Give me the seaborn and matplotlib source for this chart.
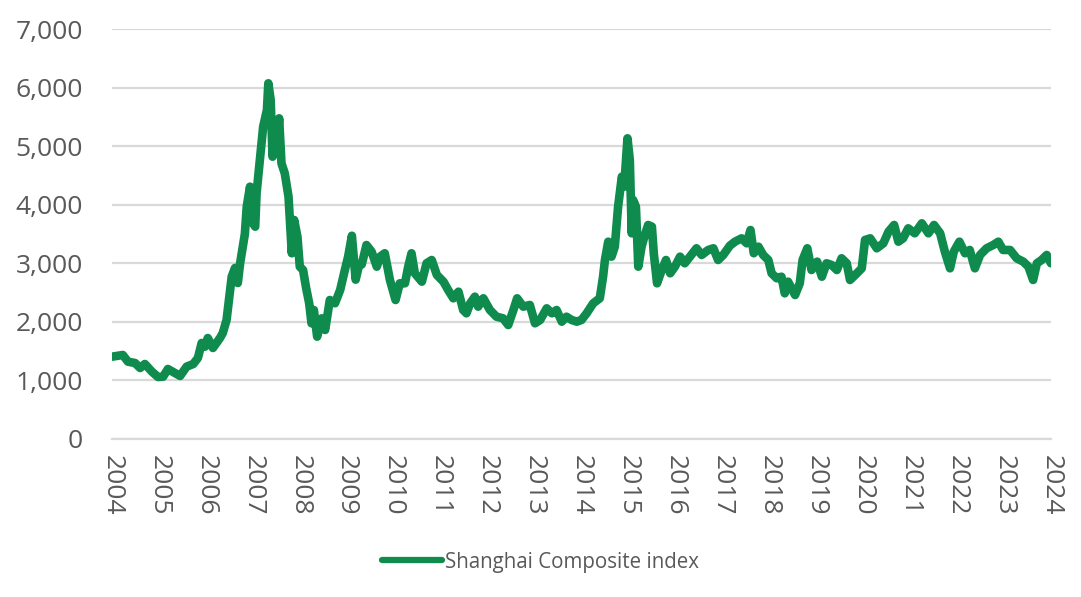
import pandas as pd
import seaborn as sns
import matplotlib.pyplot as plt
from matplotlib.ticker import FuncFormatter

# %% data (x position in years, index level)
years = [
    2004.00, 2004.23, 2004.34, 2004.49, 2004.60, 2004.70, 2004.85, 2004.98, 2005.09, 2005.19,
    2005.34, 2005.45, 2005.59, 2005.73, 2005.83, 2005.91, 2005.98, 2006.04, 2006.15, 2006.30,
    2006.36, 2006.44, 2006.55, 2006.62, 2006.68, 2006.73, 2006.83, 2006.87, 2006.94, 2007.00,
    2007.05, 2007.08, 2007.15, 2007.22, 2007.30, 2007.33, 2007.38, 2007.42, 2007.47, 2007.51,
    2007.56, 2007.61, 2007.68, 2007.76, 2007.83, 2007.88, 2007.95, 2008.00, 2008.07, 2008.13,
    2008.20, 2008.25, 2008.30, 2008.37, 2008.47, 2008.54, 2008.64, 2008.75, 2008.86, 2008.96,
    2009.03, 2009.11, 2009.19, 2009.26, 2009.32, 2009.42, 2009.53, 2009.64, 2009.71, 2009.81,
    2009.92, 2010.04, 2010.13, 2010.24, 2010.31, 2010.38, 2010.45, 2010.60, 2010.70, 2010.81,
    2010.92, 2011.06, 2011.16, 2011.27, 2011.38, 2011.48, 2011.55, 2011.63, 2011.73, 2011.80,
    2011.91, 2012.05, 2012.19, 2012.33, 2012.44, 2012.55, 2012.63, 2012.76, 2012.90, 2013.01,
    2013.12, 2013.26, 2013.37, 2013.47, 2013.58, 2013.68, 2013.79, 2013.90, 2014.00, 2014.11,
    2014.25, 2014.39, 2014.46, 2014.50, 2014.57, 2014.64, 2014.71, 2014.78, 2014.86, 2014.91,
    2014.98, 2015.03, 2015.07, 2015.10, 2015.16, 2015.21, 2015.28, 2015.35, 2015.42, 2015.50,
    2015.54, 2015.61, 2015.71, 2015.80, 2015.89, 2015.99, 2016.10, 2016.20, 2016.31, 2016.45,
    2016.56, 2016.70, 2016.81, 2016.91, 2017.02, 2017.16, 2017.27, 2017.41, 2017.52, 2017.60,
    2017.67, 2017.77, 2017.87, 2017.98, 2018.05, 2018.16, 2018.26, 2018.33, 2018.40, 2018.55,
    2018.65, 2018.71, 2018.81, 2018.90, 2019.02, 2019.12, 2019.22, 2019.33, 2019.44, 2019.54,
    2019.65, 2019.72, 2019.83, 2019.97, 2020.04, 2020.15, 2020.29, 2020.43, 2020.54, 2020.66,
    2020.75, 2020.85, 2020.96, 2021.10, 2021.25, 2021.39, 2021.51, 2021.64, 2021.74, 2021.85,
    2021.93, 2022.05, 2022.17, 2022.27, 2022.38, 2022.49, 2022.63, 2022.77, 2022.88, 2022.98,
    2023.13, 2023.27, 2023.41, 2023.52, 2023.62, 2023.70, 2023.80, 2023.91, 2024.00,
]
index_level = [
    1405, 1434, 1320, 1297, 1212, 1280, 1150, 1058, 1064, 1195,
    1127, 1076, 1235, 1280, 1383, 1639, 1576, 1724, 1554, 1724,
    1810, 2030, 2771, 2920, 2663, 3005, 3500, 3966, 4308, 3688,
    3625, 4200, 4764, 5332, 5617, 6073, 5788, 4820, 5161, 4883,
    5475, 4707, 4536, 4137, 3171, 3739, 3454, 2942, 2885, 2600,
    2317, 1975, 2202, 1747, 2060, 1861, 2373, 2317, 2544, 2885,
    3113, 3470, 2720, 2960, 2980, 3312, 3198, 2942, 3113, 3171,
    2715, 2373, 2658, 2658, 2942, 3171, 2829, 2686, 3000, 3056,
    2800, 2686, 2544, 2402, 2515, 2202, 2146, 2317, 2430, 2259,
    2402, 2202, 2088, 2060, 1946, 2202, 2402, 2259, 2288, 1975,
    2032, 2231, 2146, 2202, 2003, 2088, 2032, 2003, 2032, 2146,
    2317, 2402, 2771, 3056, 3369, 3113, 3283, 3966, 4479, 4308,
    5134, 4764, 3512, 4081, 3966, 2942, 3283, 3483, 3654, 3625,
    3171, 2658, 2885, 3056, 2829, 2942, 3113, 3000, 3113, 3256,
    3142, 3227, 3256, 3056, 3142, 3300, 3369, 3426, 3341, 3568,
    3171, 3283, 3142, 3056, 2829, 2744, 2771, 2487, 2686, 2458,
    2658, 3056, 3256, 2885, 3028, 2771, 3000, 2971, 2885, 3085,
    3000, 2715, 2800, 2914, 3398, 3426, 3256, 3341, 3540, 3654,
    3369, 3426, 3597, 3512, 3682, 3512, 3654, 3512, 3198, 2914,
    3198, 3369, 3171, 3227, 2914, 3142, 3256, 3312, 3369, 3227,
    3227, 3085, 3028, 2942, 2715, 3000, 3056, 3142, 3000,
]
series_name = "Shanghai Composite index"
year_ticks = list(range(2004, 2025))
value_ticks = list(range(0, 8000, 1000))

df = pd.DataFrame({"year": years, "value": index_level, "series": series_name})

# %% plot
sns.set_style("white")
plt.rcParams["font.family"] = ["Open Sans", "DejaVu Sans"]
grey_text = "#595959"
grid_grey = "#D9D9D9"
green = "#0F8B4D"

fig = plt.figure(figsize=(10.81, 5.97), dpi=100)
ax = fig.add_axes([0.1036, 0.2647, 0.8686, 0.6867])

sns.lineplot(data=df, x="year", y="value", hue="series", palette=[green],
             linewidth=6.2, ax=ax, legend=True, solid_capstyle="round", solid_joinstyle="round")

ax.set_xlim(2004, 2024)
ax.set_ylim(0, 7000)
ax.set_xticks(year_ticks)
ax.set_xticklabels([str(y) for y in year_ticks], rotation=-90)
ax.set_yticks(value_ticks)
ax.yaxis.set_major_formatter(FuncFormatter(lambda v, _: f"{int(v):,}"))
ax.set_xlabel("")
ax.set_ylabel("")

ax.grid(axis="y", color=grid_grey, linewidth=1.6)
ax.set_axisbelow(True)
for side in ["top", "right", "left"]:
    ax.spines[side].set_visible(False)
ax.spines["bottom"].set_color(grid_grey)
ax.spines["bottom"].set_linewidth(1.6)

ax.tick_params(axis="x", colors=grid_grey, labelcolor=grey_text, labelsize=19,
               length=6.5, width=1.6, pad=5, direction="out")
ax.tick_params(axis="y", labelcolor=grey_text, labelsize=19, length=0, pad=21)

ax.get_legend().remove()
handles, labels = ax.get_legend_handles_labels()
leg = fig.legend(handles, labels, loc="center", bbox_to_anchor=(0.5, 0.0586), frameon=False,
                 fontsize=14.8, handlelength=2.9, handletextpad=0.15, labelcolor=grey_text)
for line in leg.get_lines():
    line.set_linewidth(4.5)
    line.set_solid_capstyle("round")

fig.savefig("out.png", dpi=100)
